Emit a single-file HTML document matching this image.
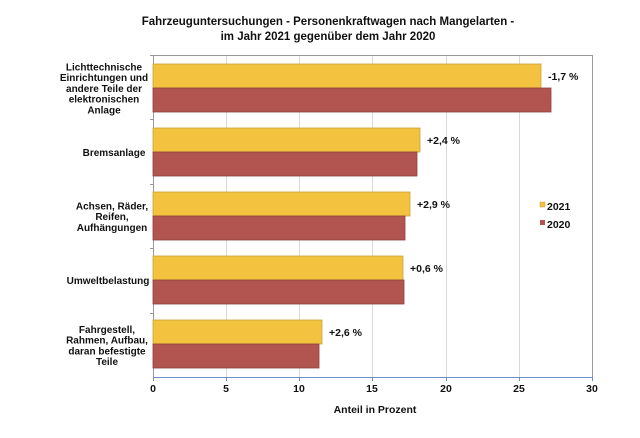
<!DOCTYPE html>
<html><head><meta charset="utf-8"><style>
html,body{margin:0;padding:0;background:#fff;}
svg{display:block;font-family:"Liberation Sans",Arial,sans-serif;font-weight:bold;}
</style></head><body>
<svg width="640" height="438" viewBox="0 0 640 438">
<text x="328" y="25" font-size="11.5" text-anchor="middle" fill="#111">Fahrzeuguntersuchungen - Personenkraftwagen nach Mangelarten -</text>
<text x="328" y="40" font-size="11.5" text-anchor="middle" fill="#111">im Jahr 2021 gegenüber dem Jahr 2020</text>
<g stroke="#d8d8d8" stroke-width="1">
<line x1="226.5" y1="55" x2="226.5" y2="377"/>
<line x1="299.5" y1="55" x2="299.5" y2="377"/>
<line x1="372.5" y1="55" x2="372.5" y2="377"/>
<line x1="446.5" y1="55" x2="446.5" y2="377"/>
<line x1="519.5" y1="55" x2="519.5" y2="377"/>
</g>
<rect x="153.5" y="55.5" width="439" height="322" fill="none" stroke="#999" stroke-width="1"/>
<line x1="153" y1="377.5" x2="593" y2="377.5" stroke="#6d8fc7" stroke-width="1"/>
<g stroke="#999"><line x1="150" y1="55.5" x2="153" y2="55.5"/><line x1="150" y1="119.5" x2="153" y2="119.5"/><line x1="150" y1="184.5" x2="153" y2="184.5"/><line x1="150" y1="248.5" x2="153" y2="248.5"/><line x1="150" y1="313.5" x2="153" y2="313.5"/></g>
<g stroke="#6d8fc7"><line x1="153.5" y1="377" x2="153.5" y2="381"/><line x1="226.5" y1="377" x2="226.5" y2="381"/><line x1="299.5" y1="377" x2="299.5" y2="381"/><line x1="372.5" y1="377" x2="372.5" y2="381"/><line x1="446.5" y1="377" x2="446.5" y2="381"/><line x1="519.5" y1="377" x2="519.5" y2="381"/><line x1="592.5" y1="377" x2="592.5" y2="381"/></g>
<g fill="#f3c33f" stroke="#c9a33a" stroke-width="0.8">
<rect x="153" y="64" width="388" height="24"/>
<rect x="153" y="128" width="267" height="24"/>
<rect x="153" y="192" width="257" height="24"/>
<rect x="153" y="256" width="250" height="24"/>
<rect x="153" y="320" width="169" height="24"/>
</g>
<g fill="#b25550" stroke="#8e3f3b" stroke-width="0.8">
<rect x="153" y="88" width="398" height="24"/>
<rect x="153" y="152" width="264" height="24"/>
<rect x="153" y="216" width="252" height="24"/>
<rect x="153" y="280" width="251" height="24"/>
<rect x="153" y="344" width="166" height="24"/>
</g>
<g font-size="10.5" fill="#111">
<text x="548" y="80">-1,7 %</text>
<text x="427" y="144">+2,4 %</text>
<text x="417" y="208">+2,9 %</text>
<text x="410" y="272">+0,6 %</text>
<text x="329" y="336">+2,6 %</text>
</g>
<rect x="540" y="202" width="5" height="5" fill="#f3c33f" stroke="#c9a33a" stroke-width="0.5"/>
<text x="547" y="210" font-size="10.5" fill="#111">2021</text>
<rect x="540" y="220" width="5" height="5" fill="#b25550"/>
<text x="547" y="228" font-size="10.5" fill="#111">2020</text>
<g font-size="10" fill="#111" text-anchor="middle">
<text x="104" y="70.5">Lichttechnische</text>
<text x="104" y="81.2">Einrichtungen und</text>
<text x="104" y="91.9">andere Teile der</text>
<text x="104" y="102.6">elektronischen</text>
<text x="104" y="113.3">Anlage</text>
<text x="114" y="156">Bremsanlage</text>
<text x="112" y="209.5">Achsen, Räder,</text>
<text x="112" y="220.2">Reifen,</text>
<text x="112" y="230.9">Aufhängungen</text>
<text x="108" y="284">Umweltbelastung</text>
<text x="107" y="333">Fahrgestell,</text>
<text x="107" y="343.7">Rahmen, Aufbau,</text>
<text x="107" y="354.4">daran befestigte</text>
<text x="107" y="365.1">Teile</text>
</g>
<g font-size="10.5" fill="#111" text-anchor="middle">
<text x="153" y="392">0</text><text x="226" y="392">5</text><text x="299" y="392">10</text><text x="372" y="392">15</text><text x="446" y="392">20</text><text x="519" y="392">25</text><text x="592" y="392">30</text>
</g>
<text x="375" y="413" font-size="10.5" text-anchor="middle" fill="#111">Anteil in Prozent</text>
</svg>
</body></html>
